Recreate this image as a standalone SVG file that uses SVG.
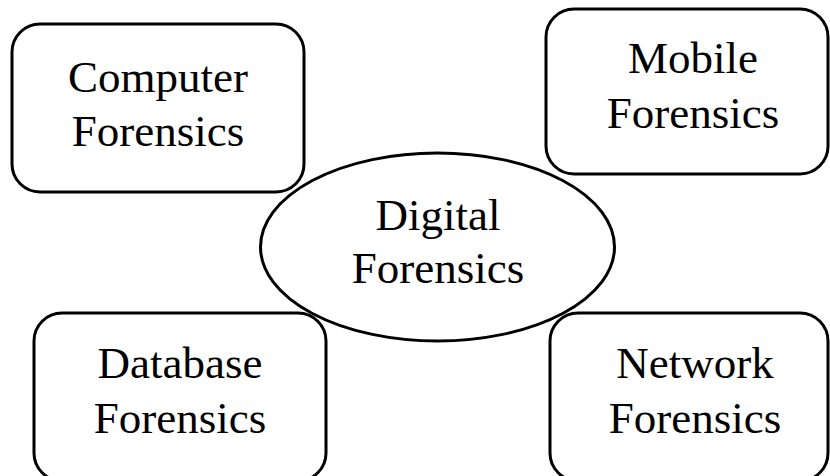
<svg xmlns="http://www.w3.org/2000/svg" width="830" height="476" viewBox="0 0 830 476">
<style>
.box{fill:none;stroke:#000;stroke-width:3}
.t{font-family:"Liberation Serif","Times New Roman",serif;font-size:45px;fill:#000;text-anchor:middle}
</style>
<rect width="830" height="476" fill="#fff"/>
<g id="computer"><rect class="box" x="12" y="24" width="292" height="168" rx="28"/><text class="t" x="158" y="92">Computer</text><text class="t" x="158" y="146">Forensics</text></g>
<g id="mobile"><rect class="box" x="546" y="9" width="282" height="165" rx="28"/><text class="t" x="693" y="73">Mobile</text><text class="t" x="693" y="128">Forensics</text></g>
<g id="digital"><ellipse class="box" cx="437.5" cy="247" rx="177" ry="94"/><text class="t" x="438" y="230">Digital</text><text class="t" x="438" y="283">Forensics</text></g>
<g id="database"><rect class="box" x="34" y="313" width="292" height="168" rx="28"/><text class="t" x="180" y="378">Database</text><text class="t" x="180" y="433">Forensics</text></g>
<g id="network"><rect class="box" x="550" y="313" width="278" height="168" rx="28"/><text class="t" x="695" y="378">Network</text><text class="t" x="695" y="433">Forensics</text></g>
<g id="connectors"></g>
</svg>
